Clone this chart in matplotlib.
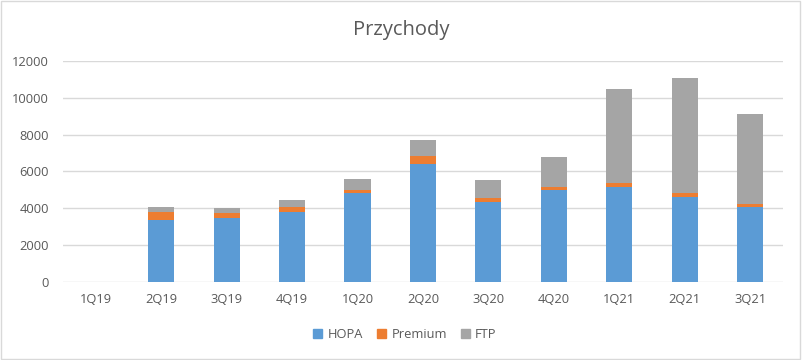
import matplotlib
matplotlib.use("Agg")
import matplotlib.pyplot as plt
import matplotlib.patches as mpatches
import numpy as np

plt.rcParams['font.family'] = ['Open Sans', 'DejaVu Sans']

# ── dane ──────────────────────────────────────────────────────────────────────
quarters = ['1Q19', '2Q19', '3Q19', '4Q19', '1Q20', '2Q20',
            '3Q20', '4Q20', '1Q21', '2Q21', '3Q21']
hopa = [0, 3380, 3470, 3810, 4820, 6410, 4340, 5020, 5150, 4610, 4070]
premium = [0, 410, 270, 250, 180, 430, 230, 130, 220, 220, 180]
ftp = [0, 280, 270, 380, 580, 850, 960, 1630, 5100, 6230, 4860]

C_HOPA = '#5B9BD5'
C_PREM = '#ED7D31'
C_FTP = '#A5A5A5'
TXT = '#595959'

# ── wykres ────────────────────────────────────────────────────────────────────
fig = plt.figure(figsize=(8.02, 3.6), dpi=100)
ax = fig.add_axes([0.0786, 0.2167, 0.8974, 0.6139])

x = np.arange(len(quarters))
w = 0.4
hopa_a = np.array(hopa)
prem_a = np.array(premium)
ftp_a = np.array(ftp)
ax.bar(x, hopa_a, w, color=C_HOPA, zorder=3)
ax.bar(x, prem_a, w, bottom=hopa_a, color=C_PREM, zorder=3)
ax.bar(x, ftp_a, w, bottom=hopa_a + prem_a, color=C_FTP, zorder=3)

ax.set_xlim(-0.5, len(quarters) - 0.5)
ax.set_ylim(0, 12000)
ax.set_yticks(np.arange(0, 12001, 2000))
ax.set_xticks(x)
ax.set_xticklabels(quarters)
ax.grid(axis='y', color='#D9D9D9', linewidth=1, zorder=0)
for s in ax.spines.values():
    s.set_visible(False)
ax.tick_params(axis='both', length=0, labelsize=9.3, labelcolor=TXT)
ax.tick_params(axis='y', pad=10)
ax.tick_params(axis='x', pad=8)

fig.text(0.5, 0.918, 'Przychody', ha='center', va='center',
         fontsize=14.5, color=TXT)

handles = [mpatches.Patch(color=C_HOPA, label='HOPA'),
           mpatches.Patch(color=C_PREM, label='Premium'),
           mpatches.Patch(color=C_FTP, label='FTP')]
fig.legend(handles=handles, loc='center', bbox_to_anchor=(0.505, 0.07),
           ncol=3, frameon=False, fontsize=9.3, labelcolor=TXT,
           handlelength=0.7, handleheight=0.7, handletextpad=0.4,
           columnspacing=1.1)

# ramka
fig.patches.append(mpatches.Rectangle((0.001, 0.002), 0.997, 0.995,
                                      transform=fig.transFigure, fill=False,
                                      edgecolor='#D9D9D9', linewidth=1))

fig.savefig('out.png', dpi=100, facecolor='white')
